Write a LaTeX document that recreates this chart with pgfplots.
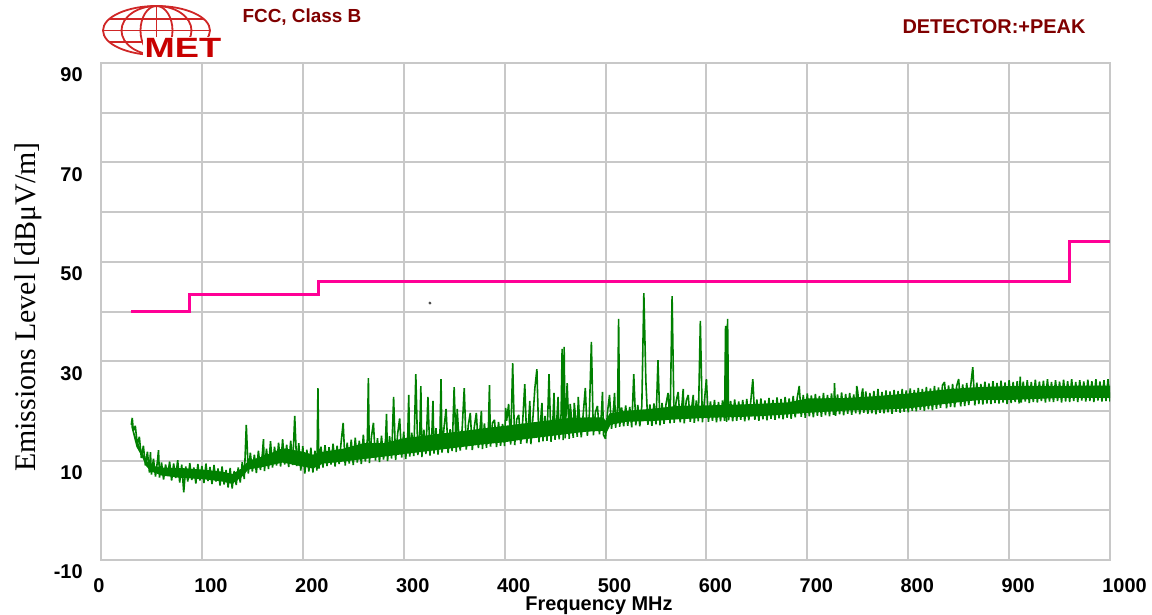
\documentclass[border=0pt]{standalone}
\usepackage{pgfplots}
\pgfplotsset{compat=1.18}
\usepackage{fontspec}
\setmainfont{Liberation Sans}
\newfontfamily\seriffont{Liberation Serif}
\definecolor{gridgray}{RGB}{200,200,200}
\definecolor{limitpink}{RGB}{255,0,150}
\definecolor{tracegreen}{RGB}{0,128,0}
\definecolor{darkred}{RGB}{128,0,0}
\definecolor{logored}{RGB}{200,0,0}
\begin{document}
\begin{tikzpicture}
\path[use as bounding box] (0,0) rectangle (576bp,-307.5bp);
\begin{scope}[x=0.5bp,y=-0.5bp]
% logo
\begin{scope}[logored!85, line width=0.9bp]
\draw (156.5,30.5) ellipse [x radius=53.5, y radius=24.5];
\draw (156.5,30.5) ellipse [x radius=35, y radius=24.5];
\draw (156.5,30.5) ellipse [x radius=16, y radius=24.5];
\draw (156.5,6) -- (156.5,55);
\draw (110,19) -- (203,19);
\draw (103,30.5) -- (210,30.5);
\draw (110,42) -- (203,42);
\end{scope}
\node[fill=white, inner sep=0.5bp, text=logored, font=\bfseries\fontsize{14}{15}\selectfont, xscale=1.3, anchor=base] at (183,57) {MET};
% titles
\node[text=darkred, font=\bfseries\fontsize{9.5}{12}\selectfont] at (302,17) {FCC, Class B};
\node[text=darkred, font=\bfseries\fontsize{10}{12}\selectfont] at (994,27) {DETECTOR:+PEAK};
\node[font=\bfseries\fontsize{10}{12}\selectfont, anchor=base] at (599,611) {Frequency MHz};
\node[rotate=90, font=\seriffont\fontsize{15}{18}\selectfont] at (28,307) {Emissions Level [dBμV/m]};
\end{scope}
\begin{axis}[
  at={(50.5bp,-280bp)}, anchor=south west,
  scale only axis, width=504.5bp, height=248.5bp,
  xmin=0, xmax=1000, ymin=-10, ymax=90,
  xtick={0,100,...,1000}, ytick={-10,10,...,90}, minor ytick={0,20,...,80},
  grid=both,
  major grid style={gridgray, line width=1bp},
  minor grid style={gridgray, line width=1bp},
  axis line style={gridgray, line width=1bp},
  tick style={draw=none},
  /pgf/number format/assume math mode=true,
  /pgf/number format/1000 sep={},
  ticklabel style={font=\bfseries\fontsize{10}{12}\selectfont},
  xticklabel style={anchor=north west, inner sep=0pt, xshift=-4bp, yshift=-9bp},
  yticklabel style={anchor=east, inner sep=0pt, xshift=-9bp, yshift=-6bp},
]
\addplot[fill=tracegreen, draw=none] coordinates {
(30,17.5)(35,14.5)(40,12)(45,10)(50,9)(60,8.6)(80,8.5)(100,8.2)(120,7.8)(130,7.3)(140,8.5)(146,10)(160,10.8)(180,12.5)(200,11.8)(210,11.2)(220,11.8)(240,12.4)(260,13.5)(280,13.5)(300,14.5)(320,15)(340,15.5)(360,16)(380,16.5)(400,17)(420,17.5)(440,18)(460,18.5)(480,18.7)(498,18.7)(500,18)(504,19.5)(520,20)(550,20.5)(570,21)(600,21.1)(650,21.4)(680,21.7)(700,22.5)(740,22.6)(770,23)(800,23.5)(840,24.4)(870,24.8)(900,25)(1000,25.1)
(1000,22.6)(950,22.6)(900,22.2)(870,22.2)(840,21.5)(800,20.5)(770,20.2)(740,20.1)(700,19.6)(680,19.3)(650,18.9)(600,18.6)(570,18.3)(550,18)(520,17.8)(505,17.2)(500,15.2)(498,16)(480,15.8)(460,15.3)(440,14.8)(420,14.3)(400,13.7)(380,13.3)(360,12.8)(340,12.3)(320,11.8)(300,11.3)(280,10.8)(260,10.3)(240,9.8)(220,9.4)(210,8.4)(200,8.8)(180,9.6)(160,8.7)(146,8.2)(140,6.8)(130,5.3)(120,5.8)(100,6.3)(80,6.5)(60,7)(50,7.8)(45,8.8)(40,11)(35,12.8)(30,16.8)
};
\addplot[tracegreen, line width=0.8bp, line join=bevel] coordinates {
(30,17.2)(31,18.6)(32,16.0)(34,17.0)(36,13.2)(38,14.8)(40,10.5)
(42,13.0)(44,9.0)(46,11.8)(48,7.6)(49,11.7)(50,7.2)(52,10.4)(54,6.8)(56,10.0)(57,12.1)(58,6.6)(60,9.6)(62,6.2)(64,9.2)(66,6.9)(68,9.8)(70,6.0)(72,9.4)(74,6.5)(76,10.1)(78,5.6)(80,9.2)(82,3.6)(84,8.8)(86,5.8)(88,9.5)(90,6.1)(92,8.6)(94,5.4)(96,9.3)(98,6.0)(100,8.9)
(102,5.5)(104,9.4)(106,5.9)(108,8.7)(110,5.3)(112,9.1)(114,5.8)(116,8.4)(118,5.0)(120,8.8)(122,5.2)(124,8.1)(126,4.6)(128,8.5)(130,4.4)(132,7.9)(134,5.1)(136,8.6)(138,5.6)(140,9.7)(142,6.3)(144,17.2)(146,7.4)(148,11.6)(150,7.8)(152,11.2)(154,7.5)(156,12.0)(158,8.1)(160,11.5)(161,14.3)(162,7.9)(164,12.4)(166,8.3)(168,13.9)(170,8.6)(172,12.8)(174,9.0)(176,13.6)(178,8.8)(180,14.3)(182,9.2)(184,13.2)(186,8.7)(188,14.0)(190,9.1)(192,19.0)(194,8.9)(196,13.5)(198,8.0)(200,12.9)
(202,7.4)(204,12.2)(206,7.8)(208,12.6)(210,7.6)(212,12.0)(214,8.0)(215,24.6)(216,8.4)(218,12.8)(220,8.6)(222,13.1)(224,8.9)(226,12.7)(228,9.2)(230,13.4)(232,8.8)(234,13.0)(236,9.3)(238,13.7)(240,17.6)(242,9.0)(244,13.6)(246,9.4)(248,14.2)(250,9.1)(252,14.6)(254,9.6)(256,14.0)(258,9.3)(260,15.2)(262,9.8)(264,14.4)(265,26.6)(266,9.5)(268,14.8)(270,17.6)(272,10.0)(274,14.5)(276,9.7)(278,15.0)(280,10.2)(282,14.3)(283,19.4)(284,9.9)(286,14.9)(288,10.4)(290,22.8)(292,10.1)(294,15.4)(296,18.5)(298,10.6)(300,15.8)
(302,10.3)(304,15.1)(305,23.2)(306,10.8)(308,15.6)(310,10.9)(312,27.4)(314,11.1)(316,15.9)(317,25.0)(318,10.7)(320,16.2)(322,11.3)(324,22.8)(326,11.0)(328,16.0)(329,22.0)(330,11.4)(332,16.5)(334,11.2)(336,16.1)(337,26.4)(338,11.6)(340,16.7)(342,20.4)(344,11.5)(346,16.3)(348,11.9)(350,24.8)(352,11.7)(353,20.4)(354,16.9)(356,12.0)(358,16.6)(360,24.6)(362,12.2)(364,17.1)(366,19.6)(368,12.1)(370,16.8)(372,19.6)(374,12.5)(376,17.3)(377,20.0)(378,12.3)(380,17.5)(382,12.6)(384,17.0)(385,25.2)(386,12.8)(388,17.6)(390,18.2)(392,12.7)(394,17.8)(396,13.0)(398,17.4)(400,12.9)
(401,20.6)(402,18.0)(404,21.4)(406,13.2)(408,29.6)(410,13.1)(412,18.3)(414,19.2)(416,13.4)(418,18.1)(420,25.4)(422,13.5)(424,18.6)(425,22.0)(426,13.3)(428,18.4)(430,24.6)(432,28.4)(434,13.7)(436,18.8)(437,21.6)(438,13.9)(440,19.0)(442,14.0)(444,27.4)(446,13.8)(448,18.9)(449,23.6)(450,14.2)(452,19.2)(453,22.8)(454,14.3)(456,19.4)(457,32.5)(458,14.1)(459,32.9)(460,14.5)(462,25.6)(464,14.4)(465,21.4)(466,19.3)(468,14.6)(469,21.6)(470,19.5)(472,14.8)(473,22.8)(474,19.1)(476,14.7)(478,19.6)(480,24.6)(482,15.0)(484,19.4)(486,33.9)(488,15.1)(490,19.7)(492,21.0)(494,15.3)(496,19.5)(497,23.8)(498,15.2)(500,14.4)
(502,19.8)(504,23.2)(506,16.4)(508,20.6)(509,23.6)(510,16.6)(512,20.9)(513,38.5)(514,16.8)(516,20.7)(518,16.9)(520,21.1)(522,17.0)(524,20.8)(526,16.7)(528,27.4)(530,17.1)(532,21.2)(534,16.9)(536,21.0)(538,43.7)(540,26.0)(542,17.2)(544,21.3)(546,17.0)(548,21.5)(550,17.3)(552,30.2)(554,17.1)(556,21.6)(558,17.4)(560,21.4)(562,23.6)(564,17.5)(566,43.1)(568,17.6)(570,21.9)(572,23.8)(574,17.7)(576,21.8)(577,24.4)(578,17.5)(580,22.0)(582,23.2)(584,17.8)(586,21.7)(587,23.2)(588,17.6)(590,22.1)(592,17.9)(594,38.1)(596,17.7)(598,22.0)(600,26.4)
(602,17.8)(604,21.9)(606,18.0)(608,22.2)(610,17.7)(612,21.8)(614,17.9)(616,22.1)(618,18.0)(619,37.1)(620,17.8)(621,38.5)(622,18.1)(624,22.0)(626,17.9)(628,22.3)(630,18.0)(632,21.9)(634,18.2)(636,22.2)(638,17.9)(640,22.4)(642,18.1)(644,22.0)(646,26.4)(648,18.2)(650,22.3)(652,18.0)(654,22.5)(656,18.3)(658,22.1)(660,18.1)(662,22.6)(664,18.4)(666,22.2)(668,18.2)(670,22.7)(672,18.5)(674,22.4)(676,18.3)(678,22.8)(680,18.6)(682,22.5)(684,18.4)(686,23.0)(688,18.7)(690,22.6)(692,25.0)(694,18.8)(696,23.2)(698,18.6)(700,23.5)
(702,18.9)(704,23.1)(706,18.7)(708,23.4)(710,19.0)(712,23.0)(714,18.8)(716,23.6)(718,19.1)(720,23.2)(722,18.9)(724,23.5)(726,19.2)(727,25.6)(728,19.0)(730,23.3)(732,19.3)(734,23.7)(736,19.1)(738,23.4)(740,19.4)(742,23.6)(744,19.2)(746,23.3)(748,19.5)(749,25.0)(750,23.8)(752,19.3)(754,23.5)(755,24.5)(756,19.6)(758,23.9)(760,19.4)(762,23.6)(764,19.5)(766,24.0)(768,19.3)(770,24.4)(772,19.6)(774,23.8)(776,19.5)(778,24.1)(780,19.7)(782,23.9)(784,19.4)(786,24.2)(788,19.8)(790,24.0)(792,19.6)(794,24.4)(796,19.8)(798,24.1)(800,19.7)
(802,24.5)(804,20.0)(806,24.2)(808,19.9)(810,24.6)(812,20.2)(814,24.4)(816,20.0)(818,24.8)(820,20.3)(822,24.5)(824,20.1)(826,25.0)(828,20.4)(830,24.7)(832,20.6)(834,25.2)(836,25.8)(838,20.5)(840,25.1)(842,20.8)(844,25.4)(846,20.7)(848,25.0)(850,26.4)(852,20.9)(854,25.3)(856,21.0)(858,25.6)(860,21.2)(862,25.2)(864,28.8)(866,21.1)(868,25.7)(870,21.4)(872,25.4)(874,21.3)(876,25.9)(878,21.5)(880,25.5)(882,21.4)(884,26.0)(886,21.6)(888,25.6)(890,21.5)(892,26.1)(894,21.7)(896,25.7)(898,21.4)(900,26.2)
(902,21.6)(904,25.8)(906,21.8)(908,26.0)(910,21.5)(911,26.9)(912,21.7)(914,25.9)(916,21.9)(918,26.2)(920,21.6)(922,25.8)(924,21.8)(926,26.3)(928,21.7)(930,25.9)(932,22.0)(934,26.1)(936,21.7)(938,26.4)(940,21.9)(942,25.8)(944,21.8)(946,26.2)(948,22.0)(950,25.9)(952,21.7)(954,26.3)(956,21.9)(958,26.0)(960,21.8)(962,26.4)(964,22.0)(966,25.8)(968,21.8)(970,26.2)(972,22.1)(974,25.9)(976,21.9)(978,26.3)(980,22.0)(982,26.0)(984,21.8)(986,26.4)(988,22.1)(990,25.9)(992,21.9)(994,26.2)(996,22.0)(998,26.4)(1000,21.9)
};
\addplot[limitpink, line width=1.5bp] coordinates {(30,40)(88,40)(88,43.5)(216,43.5)(216,46)(960,46)(960,54)(1000,54)};
\addplot[only marks, mark=*, mark size=0.5bp, black!70] coordinates {(326,41.7)};
\end{axis}
\end{tikzpicture}
\end{document}
